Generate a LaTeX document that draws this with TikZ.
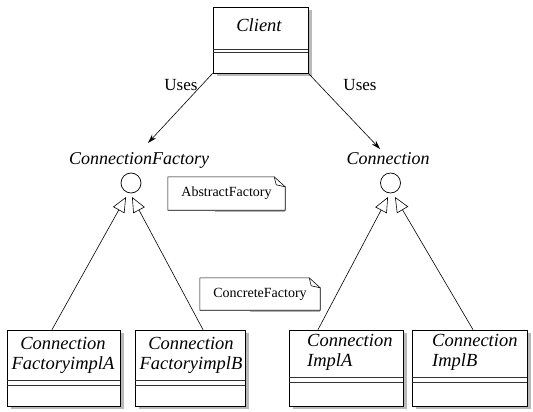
\documentclass[tikz,border=0pt]{standalone}
\usepackage{fontspec}
\setmainfont{Liberation Serif}
\usetikzlibrary{arrows.meta,shadows}
\begin{document}
\begin{tikzpicture}[x=1pt,y=-1pt,
  cls/.style={draw=black, fill=white, line width=0.7pt, inner sep=0pt,
    drop shadow={shadow xshift=4pt, shadow yshift=-3pt, fill=gray!55, opacity=1}},
  clstxt/.style={font=\fontsize{18.5}{20}\selectfont\itshape, inner sep=0pt},
  lbl/.style={font=\fontsize{18}{20}\selectfont\itshape, inner sep=0pt, anchor=base},
  useslbl/.style={font=\fontsize{17}{20}\selectfont, inner sep=0pt, anchor=base},
  notetxt/.style={font=\fontsize{14}{16}\selectfont, inner sep=0pt},
  notebox/.style={draw=black, line width=0.6pt},
  noteshadow/.style={draw=gray!60, line width=1.5pt},
  iface/.style={draw=black, circle, minimum size=20pt, inner sep=0pt, line width=0.7pt},
  uses/.style={-{Stealth[length=9pt,width=5.5pt]}, line width=0.6pt},
  realize/.style={-{Triangle[open,length=15pt,width=13pt]}, line width=0.6pt},
  compart/.style={line width=0.6pt, draw=black!80},
]
\useasboundingbox (0,0) rectangle (533,412);

% Client
\node[cls, minimum width=95pt, minimum height=66pt] (client) at (260.5,40) {};
\draw[compart] ([yshift=-43pt]client.north west) -- ([yshift=-43pt]client.north east);
\draw[compart] ([yshift=-46pt]client.north west) -- ([yshift=-46pt]client.north east);
\node[clstxt, anchor=base] (clientname) at (259,32) {Client};

% Interfaces
\node[iface] (cf) at (131,183) {};
\node[iface] (conn) at (390.5,183) {};
\node[lbl] (cflabel) at (139,164) {ConnectionFactory};
\node[lbl] (connlabel) at (388,164) {Connection};

% Uses
\coordinate (cfin) at (148,143);
\coordinate (connin) at (380,149);
\draw[uses] (client.south west) -- (cfin);
\draw[uses] (client.south east) -- (connin);
\node[useslbl] (uses1) at (181,90) {Uses};
\node[useslbl] (uses2) at (360,90) {Uses};

% Implementation classes
\node[cls, minimum width=113pt, minimum height=76pt] (fa) at (63.5,368) {};
\node[cls, minimum width=110pt, minimum height=76pt] (fb) at (190,368) {};
\node[cls, minimum width=114pt, minimum height=76pt] (ia) at (346,368) {};
\node[cls, minimum width=115pt, minimum height=76pt] (ib) at (469.5,368) {};
\foreach \b/\d in {fa/51,fb/51,ia/48,ib/48}{
  \draw[compart] ([yshift=-\d pt]\b.north west) -- ([yshift=-\d pt]\b.north east);
  \draw[compart] ([yshift=-\d pt-5pt]\b.north west) -- ([yshift=-\d pt-5pt]\b.north east);
}
\node[clstxt, align=center, anchor=north] (faname) at (63,337.5) {Connection\\FactoryimplA};
\node[clstxt, align=center, anchor=north] (fbname) at (191,337.5) {Connection\\FactoryimplB};
\node[clstxt, align=left, anchor=north west] (ianame) at (307,334.5) {Connection\\ImplA};
\node[clstxt, align=left, anchor=north west] (ibname) at (432,334.5) {Connection\\ImplB};

% Realization
\coordinate (cftipL) at (126,197);
\coordinate (cftipR) at (132,197);
\coordinate (conntipL) at (388,197);
\coordinate (conntipR) at (395,197);
\draw[realize] ([xshift=-11.5pt]fa.north) -- (cftipL);
\draw[realize] ([xshift=13pt]fb.north) -- (cftipR);
\draw[realize] ([xshift=-28pt]ia.north) -- (conntipL);
\draw[realize] ([xshift=3.5pt]ib.north) -- (conntipR);

% Notes
\node[notetxt, minimum width=117pt, minimum height=33pt] (absnote) at (226.5,193.5) {AbstractFactory};
\node[notetxt, minimum width=120pt, minimum height=32pt] (connote) at (260,294) {ConcreteFactory};
\foreach \n in {absnote,connote}{
  \draw[noteshadow] ([xshift=-70pt,yshift=-1.2pt]\n.south east) -- ([yshift=-1.2pt]\n.south east);
  \draw[notebox] (\n.south west) -- (\n.north west) -- ([xshift=-11pt]\n.north east)
     -- ([yshift=-10pt]\n.north east) -- (\n.south east) -- cycle;
  \draw[notebox] ([xshift=-11pt]\n.north east) -- ([xshift=-9pt,yshift=-8pt]\n.north east)
     -- ([yshift=-10pt]\n.north east);
}
\end{tikzpicture}
\end{document}
